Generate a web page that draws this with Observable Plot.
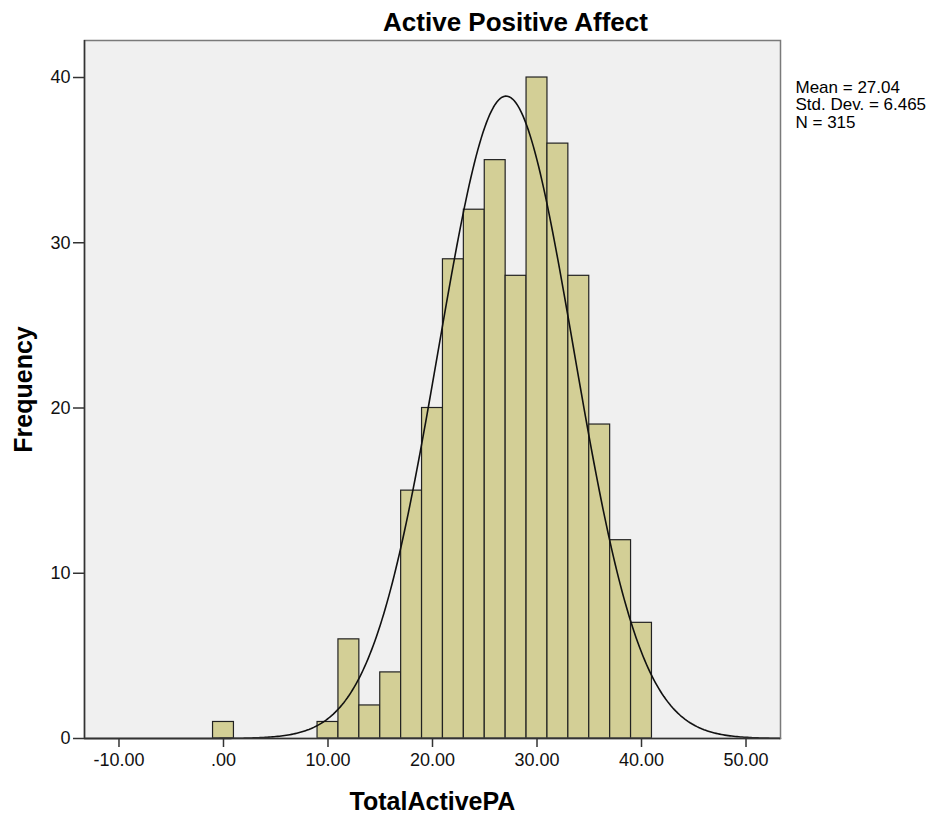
<!DOCTYPE html>
<html><head><meta charset="utf-8">
<script src="https://cdn.jsdelivr.net/npm/d3@7"></script>
<script src="https://cdn.jsdelivr.net/npm/@observablehq/plot@0.6"></script>
<style>body{margin:0;background:#fff}</style>
</head><body><div id="chart"></div>
<script>
const binStart = [-1, 9, 11, 13, 15, 17, 19, 21, 23, 25, 27, 29, 31, 33, 35, 37, 39];
const binWidth = 2;
const counts   = [ 1, 1,  6,  2,  4, 15, 20, 29, 32, 35, 28, 40, 36, 28, 19, 12,  7];
const xTicks = [-10, 0, 10, 20, 30, 40, 50];
const yTicks = [0, 10, 20, 30, 40];
const stats = {mean: 27.04, sd: 6.465, n: 315};
const statLines = ["Mean = 27.04", "Std. Dev. = 6.465", "N = 315"];

const bins = binStart.map((s, i) => ({x1: s, x2: s + binWidth, y: counts[i]}));
const xDom = [-13.3, 53.3];
const curve = d3.range(0, 401).map(i => {
  const x = xDom[0] + (xDom[1] - xDom[0]) * i / 400;
  const z = (x - stats.mean) / stats.sd;
  return {x, y: stats.n * binWidth * Math.exp(-0.5 * z * z) / (stats.sd * Math.sqrt(2 * Math.PI))};
});
const fmtX = v => { const s = Math.abs(v).toFixed(2); return (v < 0 ? "-" : "") + (Math.abs(v) < 1 ? s.slice(1) : s); };

const font = "Liberation Sans, Arial, sans-serif";
const chart = Plot.plot({
  width: 937, height: 819,
  marginLeft: 84, marginRight: 157, marginTop: 40, marginBottom: 81,
  style: {fontFamily: font, fontSize: "14px", background: "#fff", color: "#000"},
  x: {domain: xDom, axis: null},
  y: {domain: [0, 42.24], axis: null},
  marks: [
    Plot.frame({fill: "#f0f0f0", stroke: "none"}),
    Plot.rectY(bins, {x1: "x1", x2: "x2", y: "y", fill: "#d3cf96", stroke: "#222", strokeWidth: 1.2}),
    Plot.line(curve, {x: "x", y: "y", stroke: "#111", strokeWidth: 1.6}),
    Plot.frame({stroke: "#7a7a7a", strokeWidth: 1.5}),
    Plot.ruleY([0], {stroke: "#333", strokeWidth: 1.5}),
    Plot.ruleX([xDom[0]], {stroke: "#333", strokeWidth: 1.5}),
    Plot.axisX(xTicks, {label: null, tickFormat: fmtX, tickSize: 9, tickPadding: 6, fontSize: 18, fill: "#111", stroke: "#333", strokeWidth: 1.5}),
    Plot.axisY(yTicks, {label: null, tickSize: 11, tickPadding: 3, fontSize: 18, fill: "#111", stroke: "#333", strokeWidth: 1.5}),
    Plot.text(["Active Positive Affect"], {frameAnchor: "top", lineAnchor: "middle", dx: 83, dy: -18, fontSize: 26, fontWeight: "bold", fill: "#000"}),
    Plot.text(["TotalActivePA"], {frameAnchor: "bottom", lineAnchor: "middle", dx: 0, dy: 63, fontSize: 25, fontWeight: "bold", fill: "#000"}),
    Plot.text(["Frequency"], {frameAnchor: "left", textAnchor: "middle", lineAnchor: "middle", dx: -61, dy: 0, rotate: -90, fontSize: 25, fontWeight: "bold", fill: "#000"}),
    Plot.text([statLines[0]], {frameAnchor: "top-right", textAnchor: "start", lineAnchor: "middle", dx: 15, dy: 47, fontSize: 17, fill: "#000"}),
    Plot.text([statLines[1]], {frameAnchor: "top-right", textAnchor: "start", lineAnchor: "middle", dx: 15, dy: 64.5, fontSize: 17, fill: "#000"}),
    Plot.text([statLines[2]], {frameAnchor: "top-right", textAnchor: "start", lineAnchor: "middle", dx: 15, dy: 82, fontSize: 17, fill: "#000"})
  ]
});
document.getElementById("chart").append(chart);
</script></body></html>
